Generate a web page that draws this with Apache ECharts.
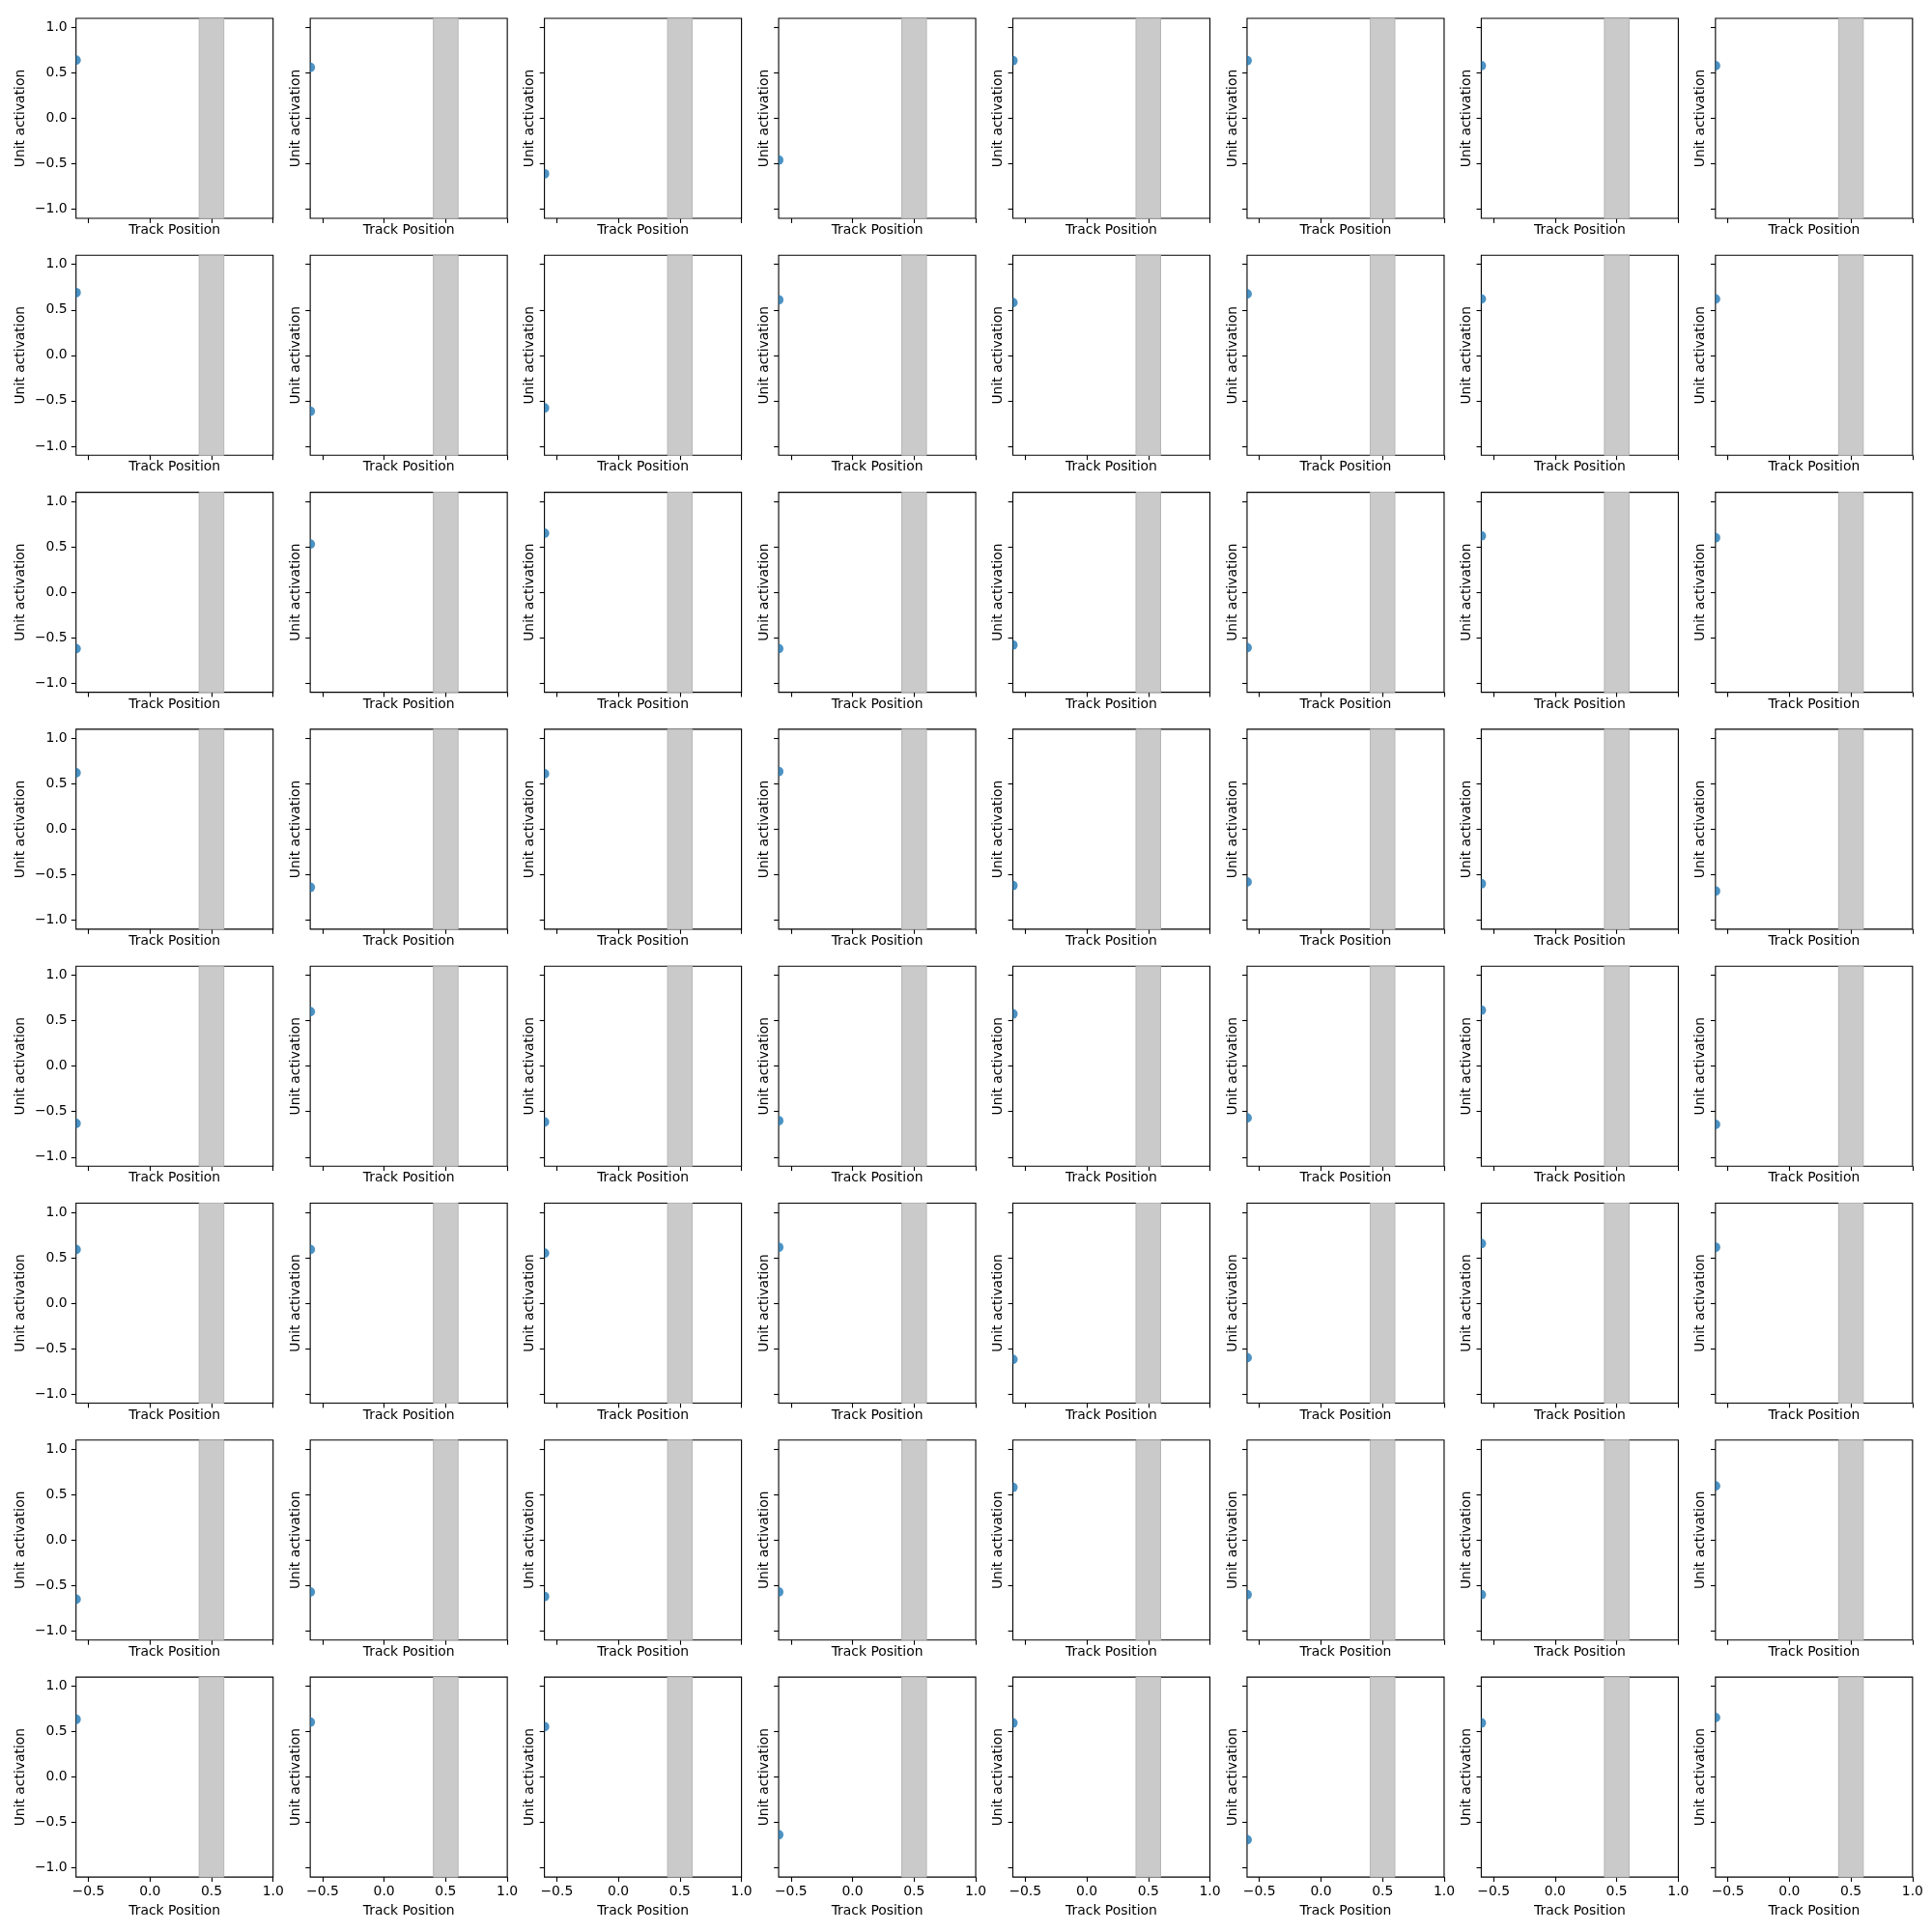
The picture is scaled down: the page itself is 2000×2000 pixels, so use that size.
<!DOCTYPE html>
<html><head><meta charset="utf-8">
<script src="https://cdn.jsdelivr.net/npm/echarts@6/dist/echarts.min.js"></script>
<style>html,body{margin:0;padding:0;background:#fff}#c{width:2000px;height:2000px}</style>
</head><body><div id="c"></div>
<script>
// Unit activation at start of track, one value per unit (8 x 8 grid of units)
const unitActivation = [
  [0.64, 0.56, -0.61, -0.46, 0.635, 0.635, 0.58, 0.58],
  [0.69, -0.615, -0.58, 0.61, 0.58, 0.675, 0.62, 0.62],
  [-0.62, 0.53, 0.65, -0.62, -0.58, -0.61, 0.62, 0.60],
  [0.62, -0.64, 0.61, 0.635, -0.62, -0.58, -0.60, -0.68],
  [-0.63, 0.60, -0.615, -0.60, 0.575, -0.57, 0.615, -0.64],
  [0.59, 0.59, 0.55, 0.615, -0.62, -0.60, 0.655, 0.615],
  [-0.65, -0.57, -0.62, -0.57, 0.58, -0.60, -0.60, 0.595],
  [0.635, 0.605, 0.555, -0.635, 0.595, -0.69, 0.595, 0.654]
];
const trackPosition = -0.6;
const xRange = [-0.6, 1.0];
const yRange = [-1.1, 1.1];
const xTicks = [-0.5, 0.0, 0.5, 1.0];
const yTicks = [-1.0, -0.5, 0.0, 0.5, 1.0];
const bandRange = [0.4, 0.6];
const xName = 'Track Position';
const yName = 'Unit activation';

const FONT = 'DejaVu Sans';
const FS = 13.9;
const fmt = v => (v < 0 ? '\u2212' : '') + Math.abs(v).toFixed(1);

const L0 = 78.7, DX = 242.45, T0 = 19, DY = 245.3, W = 204, H = 207;
const grids = [], xAxes = [], yAxes = [], series = [];
const rows = unitActivation.length, cols = unitActivation[0].length;
for (let r = 0; r < rows; r++) {
  for (let c = 0; c < cols; c++) {
    const i = r * cols + c;
    const bottom = r === rows - 1, first = c === 0;
    grids.push({left: L0 + c * DX, top: T0 + r * DY, width: W, height: H,
      show: true, borderColor: '#000', borderWidth: 1.1, backgroundColor: 'transparent', containLabel: false});
    xAxes.push({type: 'value', gridIndex: i, min: xRange[0], max: xRange[1],
      splitLine: {show: false},
      axisLine: {show: false, onZero: false},
      axisTick: {show: true, length: 4.9, lineStyle: {color: '#000', width: 1.1}, customValues: xTicks},
      axisLabel: {show: bottom, customValues: xTicks, formatter: fmt, color: '#000', fontFamily: FONT, fontSize: FS, margin: 8},
      name: xName, nameLocation: 'middle', nameGap: bottom ? 28.5 : 5.5,
      nameTextStyle: {color: '#000', fontFamily: FONT, fontSize: FS}
    });
    yAxes.push({type: 'value', gridIndex: i, min: yRange[0], max: yRange[1],
      splitLine: {show: false},
      axisLine: {show: false, onZero: false},
      axisTick: {show: true, length: 4.9, lineStyle: {color: '#000', width: 1.1}, customValues: yTicks},
      axisLabel: {show: first, customValues: yTicks, formatter: fmt, color: '#000', fontFamily: FONT, fontSize: FS, margin: 9},
      name: yName, nameLocation: 'middle', nameGap: first ? 50 : 8,
      nameTextStyle: {color: '#000', fontFamily: FONT, fontSize: FS}
    });
    series.push({type: 'scatter', xAxisIndex: i, yAxisIndex: i,
      data: [[trackPosition, unitActivation[r][c]]],
      symbol: 'path://M0,0 A10,10 0 0,1 0,20 Z',
      symbolSize: [5, 10], symbolOffset: [2.5, 0],
      itemStyle: {color: '#1f77b4'},
      silent: true, animation: false, z: 5,
      markArea: {silent: true, itemStyle: {color: '#cacaca', borderColor: '#b5b5b5', borderWidth: 1},
        data: [[{xAxis: bandRange[0]}, {xAxis: bandRange[1]}]]}
    });
  }
}
const chart = echarts.init(document.getElementById('c'), null, {renderer: 'canvas'});
chart.setOption({animation: false, backgroundColor: '#fff', grid: grids, xAxis: xAxes, yAxis: yAxes, series: series});
</script></body></html>
